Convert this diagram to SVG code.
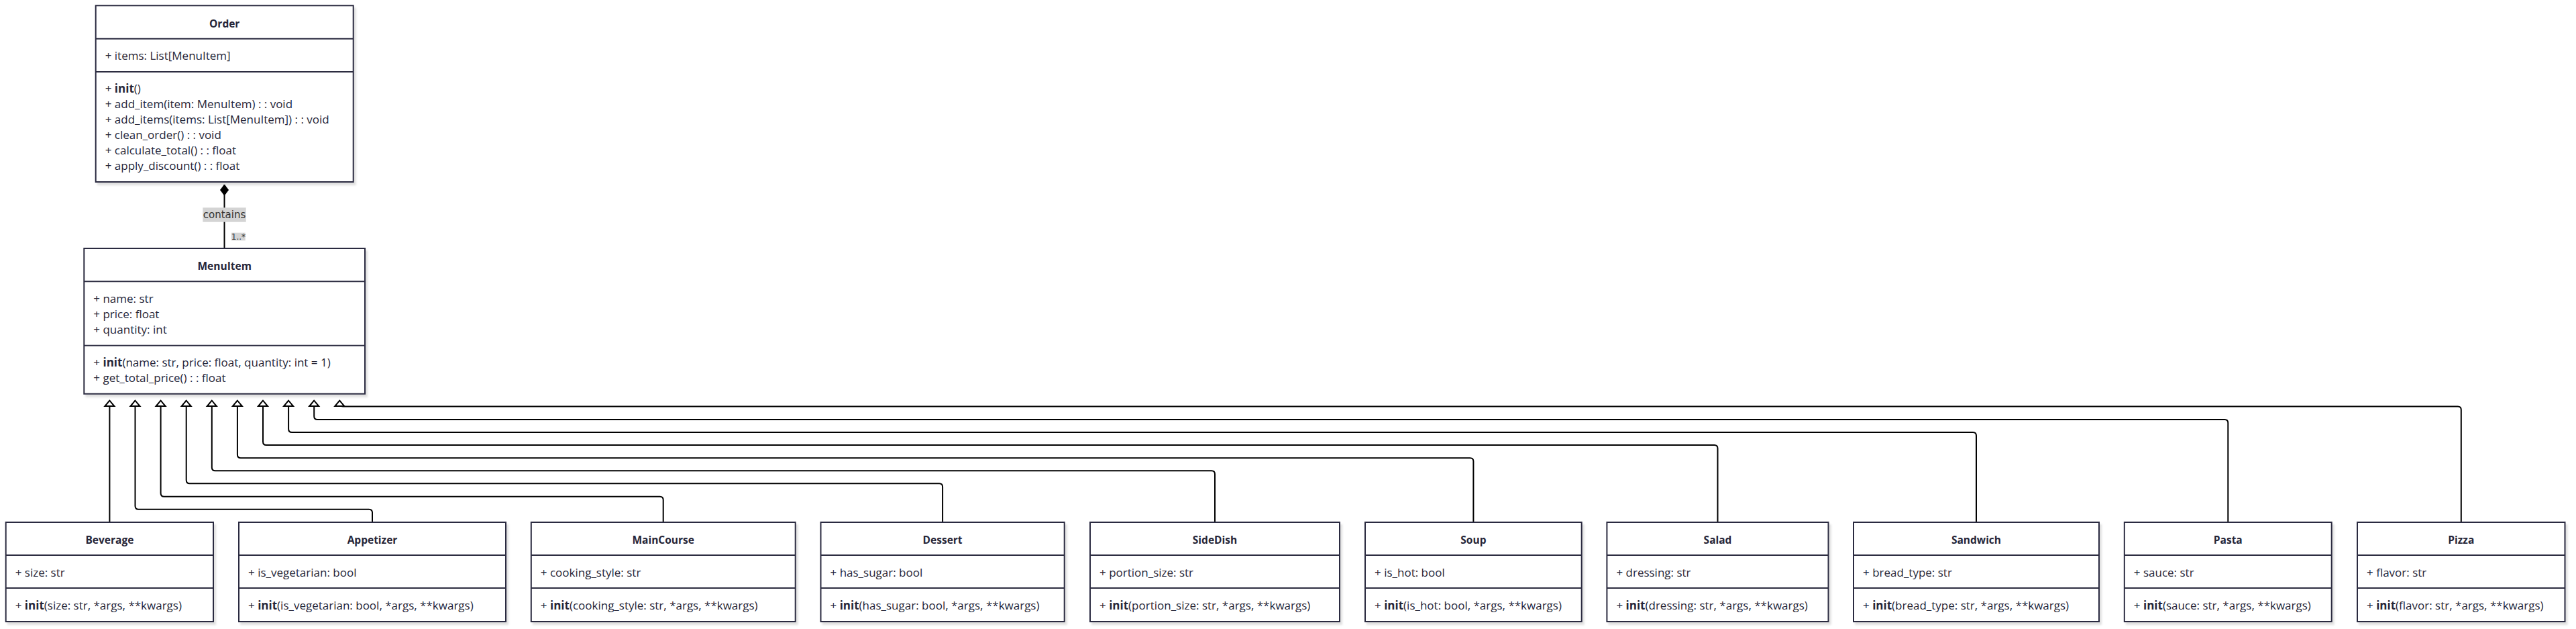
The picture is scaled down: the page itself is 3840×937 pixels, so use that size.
<svg xmlns="http://www.w3.org/2000/svg" width="3840" height="937" viewBox="0 0 3840 937">
<defs>
<style>
.box{fill:#fff;stroke:#2c2c40;stroke-width:2;filter:url(#sh)}
.div{stroke:#2c2c40;stroke-width:2}
.title{font-family:"Open Sans","Liberation Sans",sans-serif;font-weight:700;font-size:15.5px;fill:#262638;text-anchor:middle}
.t{font-family:"Open Sans","Liberation Sans",sans-serif;font-size:17px;fill:#262638}
.b{font-weight:700}
.edge{fill:none;stroke:#000;stroke-width:2}
.inh{marker-end:url(#tri)}
.lblbg{fill:#d4d4d4}
.lbl{font-family:"DejaVu Sans","Liberation Sans",sans-serif;fill:#333;text-anchor:middle}
</style>
<filter id="sh" x="-5%" y="-5%" width="112%" height="118%">
<feDropShadow dx="3" dy="4" stdDeviation="1.5" flood-color="#000" flood-opacity="0.12"/>
</filter>
<marker id="tri" markerUnits="userSpaceOnUse" markerWidth="20" markerHeight="20" viewBox="-10 -10 20 20" refX="0" refY="0" orient="auto">
<path d="M0,0 L-8.3,-7 L-8.3,7 Z" fill="#fff" stroke="#000" stroke-width="2"/>
</marker>
<marker id="dia" markerUnits="userSpaceOnUse" markerWidth="20" markerHeight="16" viewBox="-2 -8 20 16" refX="0" refY="0" orient="auto">
<path d="M0,0 L8,-6 L16,0 L8,6 Z" fill="#000" stroke="#000" stroke-width="1"/>
</marker>
</defs>
<rect width="3840" height="937" fill="#fff"/>

<g id="connectors">
<path class="edge" d="M334.5,275 V370" marker-start="url(#dia)"/>
<path class="edge inh" d="M163.4,778 V596.7"/>
<path class="edge inh" d="M555,778 V763.7 Q555,758.7 550,758.7 H206.5 Q201.5,758.7 201.5,753.7 V596.7"/>
<path class="edge inh" d="M988.7,778 V744.7 Q988.7,739.7 983.7,739.7 H244.6 Q239.6,739.7 239.6,734.7 V596.7"/>
<path class="edge inh" d="M1405.1,778 V725.3 Q1405.1,720.3 1400.1,720.3 H282.7 Q277.7,720.3 277.7,715.3 V596.7"/>
<path class="edge inh" d="M1811,778 V706.3 Q1811,701.3 1806,701.3 H320.8 Q315.8,701.3 315.8,696.3 V596.7"/>
<path class="edge inh" d="M2196.4,778 V687.3 Q2196.4,682.3 2191.4,682.3 H358.9 Q353.9,682.3 353.9,677.3 V596.7"/>
<path class="edge inh" d="M2560.5,778 V668 Q2560.5,663 2555.5,663 H397 Q392,663 392,658 V596.7"/>
<path class="edge inh" d="M2946,778 V649 Q2946,644 2941,644 H435.1 Q430.1,644 430.1,639 V596.7"/>
<path class="edge inh" d="M3321.3,778 V630 Q3321.3,625 3316.3,625 H473.2 Q468.2,625 468.2,620 V596.7"/>
<path class="edge inh" d="M3668.8,778 V610.5 Q3668.8,605.5 3663.8,605.5 H511.3 Q506.3,605.5 506.3,600.5 V596.7"/>
<g id="label-contains">
<rect class="lblbg" x="302.3" y="309.3" width="64.4" height="21.4"/>
<text class="lbl" x="334.5" y="325.3" font-size="15">contains</text>
</g>
<g id="label-card">
<rect class="lblbg" x="345" y="346.7" width="20.7" height="11.6"/>
<text class="lbl" x="355.4" y="357" font-size="12">1..*</text>
</g>
</g>

<g id="node-Order">
<rect class="box" x="142.7" y="8.3" width="384" height="262.7"/>
<line class="div" x1="142.7" y1="57.7" x2="526.7" y2="57.7"/>
<line class="div" x1="142.7" y1="107" x2="526.7" y2="107"/>
<text class="title" x="334.7" y="40.5">Order</text>
<text class="t" x="156.7" y="89.3">+ items: List[MenuItem]</text>
<text class="t" x="156.7" y="137.7">+ <tspan class="b">init</tspan>()</text>
<text class="t" x="156.7" y="160.7">+ add_item(item: MenuItem) : : void</text>
<text class="t" x="156.7" y="183.7">+ add_items(items: List[MenuItem]) : : void</text>
<text class="t" x="156.7" y="206.7">+ clean_order() : : void</text>
<text class="t" x="156.7" y="229.7">+ calculate_total() : : float</text>
<text class="t" x="156.7" y="252.7">+ apply_discount() : : float</text>
</g>

<g id="node-MenuItem">
<rect class="box" x="125.3" y="370" width="418.7" height="216.7"/>
<line class="div" x1="125.3" y1="419.3" x2="544" y2="419.3"/>
<line class="div" x1="125.3" y1="514.7" x2="544" y2="514.7"/>
<text class="title" x="334.7" y="402.3">MenuItem</text>
<text class="t" x="139.3" y="450.7">+ name: str</text>
<text class="t" x="139.3" y="473.7">+ price: float</text>
<text class="t" x="139.3" y="496.7">+ quantity: int</text>
<text class="t" x="139.3" y="546">+ <tspan class="b">init</tspan>(name: str, price: float, quantity: int = 1)</text>
<text class="t" x="139.3" y="569">+ get_total_price() : : float</text>
</g>

<g id="node-Beverage">
<rect class="box" x="8.7" y="778" width="309.3" height="148"/>
<line class="div" x1="8.7" y1="827" x2="318" y2="827"/>
<line class="div" x1="8.7" y1="876" x2="318" y2="876"/>
<text class="title" x="163.4" y="810">Beverage</text>
<text class="t" x="22.7" y="859.3">+ size: str</text>
<text class="t" x="22.7" y="908.3">+ <tspan class="b">init</tspan>(size: str, *args, **kwargs)</text>
</g>

<g id="node-Appetizer">
<rect class="box" x="356" y="778" width="398" height="148"/>
<line class="div" x1="356" y1="827" x2="754" y2="827"/>
<line class="div" x1="356" y1="876" x2="754" y2="876"/>
<text class="title" x="555" y="810">Appetizer</text>
<text class="t" x="370" y="859.3">+ is_vegetarian: bool</text>
<text class="t" x="370" y="908.3">+ <tspan class="b">init</tspan>(is_vegetarian: bool, *args, **kwargs)</text>
</g>

<g id="node-MainCourse">
<rect class="box" x="791.8" y="778" width="393.9" height="148"/>
<line class="div" x1="791.8" y1="827" x2="1185.7" y2="827"/>
<line class="div" x1="791.8" y1="876" x2="1185.7" y2="876"/>
<text class="title" x="988.7" y="810">MainCourse</text>
<text class="t" x="805.8" y="859.3">+ cooking_style: str</text>
<text class="t" x="805.8" y="908.3">+ <tspan class="b">init</tspan>(cooking_style: str, *args, **kwargs)</text>
</g>

<g id="node-Dessert">
<rect class="box" x="1223.5" y="778" width="363.2" height="148"/>
<line class="div" x1="1223.5" y1="827" x2="1586.7" y2="827"/>
<line class="div" x1="1223.5" y1="876" x2="1586.7" y2="876"/>
<text class="title" x="1405.1" y="810">Dessert</text>
<text class="t" x="1237.5" y="859.3">+ has_sugar: bool</text>
<text class="t" x="1237.5" y="908.3">+ <tspan class="b">init</tspan>(has_sugar: bool, *args, **kwargs)</text>
</g>

<g id="node-SideDish">
<rect class="box" x="1625" y="778" width="372" height="148"/>
<line class="div" x1="1625" y1="827" x2="1997" y2="827"/>
<line class="div" x1="1625" y1="876" x2="1997" y2="876"/>
<text class="title" x="1811" y="810">SideDish</text>
<text class="t" x="1639" y="859.3">+ portion_size: str</text>
<text class="t" x="1639" y="908.3">+ <tspan class="b">init</tspan>(portion_size: str, *args, **kwargs)</text>
</g>

<g id="node-Soup">
<rect class="box" x="2035" y="778" width="322.7" height="148"/>
<line class="div" x1="2035" y1="827" x2="2357.7" y2="827"/>
<line class="div" x1="2035" y1="876" x2="2357.7" y2="876"/>
<text class="title" x="2196.4" y="810">Soup</text>
<text class="t" x="2049" y="859.3">+ is_hot: bool</text>
<text class="t" x="2049" y="908.3">+ <tspan class="b">init</tspan>(is_hot: bool, *args, **kwargs)</text>
</g>

<g id="node-Salad">
<rect class="box" x="2395.4" y="778" width="330.1" height="148"/>
<line class="div" x1="2395.4" y1="827" x2="2725.5" y2="827"/>
<line class="div" x1="2395.4" y1="876" x2="2725.5" y2="876"/>
<text class="title" x="2560.5" y="810">Salad</text>
<text class="t" x="2409.4" y="859.3">+ dressing: str</text>
<text class="t" x="2409.4" y="908.3">+ <tspan class="b">init</tspan>(dressing: str, *args, **kwargs)</text>
</g>

<g id="node-Sandwich">
<rect class="box" x="2763" y="778" width="366" height="148"/>
<line class="div" x1="2763" y1="827" x2="3129" y2="827"/>
<line class="div" x1="2763" y1="876" x2="3129" y2="876"/>
<text class="title" x="2946" y="810">Sandwich</text>
<text class="t" x="2777" y="859.3">+ bread_type: str</text>
<text class="t" x="2777" y="908.3">+ <tspan class="b">init</tspan>(bread_type: str, *args, **kwargs)</text>
</g>

<g id="node-Pasta">
<rect class="box" x="3166.8" y="778" width="308.9" height="148"/>
<line class="div" x1="3166.8" y1="827" x2="3475.7" y2="827"/>
<line class="div" x1="3166.8" y1="876" x2="3475.7" y2="876"/>
<text class="title" x="3321.3" y="810">Pasta</text>
<text class="t" x="3180.8" y="859.3">+ sauce: str</text>
<text class="t" x="3180.8" y="908.3">+ <tspan class="b">init</tspan>(sauce: str, *args, **kwargs)</text>
</g>

<g id="node-Pizza">
<rect class="box" x="3514" y="778" width="309.5" height="148"/>
<line class="div" x1="3514" y1="827" x2="3823.5" y2="827"/>
<line class="div" x1="3514" y1="876" x2="3823.5" y2="876"/>
<text class="title" x="3668.8" y="810">Pizza</text>
<text class="t" x="3528" y="859.3">+ flavor: str</text>
<text class="t" x="3528" y="908.3">+ <tspan class="b">init</tspan>(flavor: str, *args, **kwargs)</text>
</g>
</svg>
